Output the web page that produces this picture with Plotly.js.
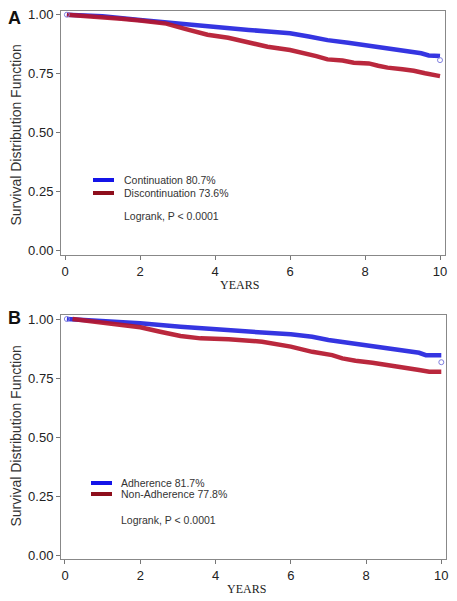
<!DOCTYPE html>
<html><head><meta charset="utf-8">
<script src="https://cdn.plot.ly/plotly-3.0.1.min.js"></script>
<style>html,body{margin:0;padding:0;background:#fff}</style>
</head><body>
<div id="chart" style="width:457px;height:601px"></div>
<script>
// Panel A: Continuation vs Discontinuation
const yearsA_cont = [0.05,0.5,1.0,2.0,3.0,4.0,4.4,4.9,5.5,6.0,6.5,7.0,7.55,8.0,8.5,9.05,9.5,9.7,10.0];
const survA_cont  = [1.0,0.997,0.993,0.977,0.961,0.946,0.940,0.935,0.928,0.921,0.907,0.892,0.881,0.871,0.860,0.850,0.836,0.827,0.824];
const yearsA_disc = [0.05,0.5,1.0,1.5,2.0,2.7,3.2,3.8,4.35,5.0,5.4,6.0,6.4,6.7,7.0,7.4,7.7,8.1,8.35,8.6,9.0,9.3,9.6,10.0];
const survA_disc  = [1.0,0.996,0.990,0.983,0.975,0.962,0.940,0.915,0.902,0.878,0.864,0.850,0.836,0.824,0.810,0.805,0.796,0.793,0.783,0.775,0.768,0.762,0.751,0.739];
const censorA_x = [0.05, 10.0];
const censorA_y = [1.0, 0.807];

// Panel B: Adherence vs Non-Adherence
const yearsB_adh = [0.05,0.93,2.0,3.07,4.35,5.24,6.0,6.57,7.0,8.0,8.79,9.41,9.59,10.0];
const survB_adh  = [1.0,0.993,0.982,0.967,0.950,0.943,0.935,0.925,0.911,0.890,0.872,0.857,0.847,0.847];
const yearsB_non = [0.2,0.93,2.0,2.53,3.07,3.6,4.35,5.24,6.0,6.57,7.1,7.37,7.72,8.17,8.52,8.97,9.41,9.68,10.0];
const survB_non  = [1.0,0.984,0.965,0.946,0.928,0.918,0.914,0.904,0.883,0.861,0.847,0.833,0.823,0.815,0.805,0.794,0.784,0.777,0.777];
const censorB_x = [0.05, 10.0];
const censorB_y = [1.0, 0.817];

const xTicks = [0,2,4,6,8,10];
const yTicks = [0,0.25,0.5,0.75,1];
const yTickText = ['0.00','0.25','0.50','0.75','1.00'];
const legendA = ['Continuation 80.7%','Discontinuation 73.6%'];
const legendB = ['Adherence 81.7%','Non-Adherence 77.8%'];
const pText = 'Logrank, P < 0.0001';
const xTitle = 'YEARS';
const yTitle = 'Survival Distribution Function';

const BLUE = '#2424de', RED = '#b4162c';
const LBLUE = '#1414e8', LRED = '#8e0e1c';

function curve(x,y,color,xa,ya,name){
  return {x:x,y:y,type:'scatter',mode:'lines',name:name,xaxis:xa,yaxis:ya,
    line:{color:color,width:4.5,shape:'linear'},opacity:0.92,showlegend:false,hoverinfo:'skip'};
}
function cens(x,y,xa,ya){
  return {x:x,y:y,type:'scatter',mode:'markers',xaxis:xa,yaxis:ya,showlegend:false,
    marker:{symbol:'circle-open',size:5,color:'#8080e0',line:{width:1}},hoverinfo:'skip'};
}
const data = [
  curve(yearsA_cont,survA_cont,BLUE,'x','y',legendA[0]),
  curve(yearsA_disc,survA_disc,RED,'x','y',legendA[1]),
  cens(censorA_x,censorA_y,'x','y'),
  curve(yearsB_adh,survB_adh,BLUE,'x2','y2',legendB[0]),
  curve(yearsB_non,survB_non,RED,'x2','y2',legendB[1]),
  cens(censorB_x,censorB_y,'x2','y2')
];

const SANS = 'Liberation Sans, Arial, sans-serif';
const tf = {family:SANS,size:13,color:'#222'};
function xax(dom,rng,anchor){return {domain:dom,range:rng,anchor:anchor,tickvals:xTicks,ticks:'outside',ticklen:4,tickcolor:'#777',
  showline:true,mirror:true,linecolor:'#888',linewidth:1,showgrid:false,zeroline:false,tickfont:tf,fixedrange:true};}
function yax(dom,rng,anchor){return {domain:dom,range:rng,anchor:anchor,tickvals:yTicks,ticktext:yTickText,ticks:'outside',ticklen:4,tickcolor:'#777',
  showline:true,mirror:true,linecolor:'#888',linewidth:1,showgrid:false,zeroline:false,tickfont:tf,fixedrange:true};}

const W=457,H=601;
const px=(v)=>v/W, py=(v)=>1-v/H;
const lf = {family:SANS,size:10.5,color:'#333'};
function A(text,x,y,font,extra){return Object.assign({text:text,x:px(x),y:py(y),xref:'paper',yref:'paper',showarrow:false,
  xanchor:'center',yanchor:'middle',font:font},extra||{});}
const pl = {family:SANS,size:18,color:'#111'};
const yt = {family:SANS,size:14,color:'#333'};
const xt = {family:'Liberation Serif, Times New Roman, serif',size:12,color:'#222'};
const ann = [
  A('<b>A</b>',14,18,pl), A('<b>B</b>',14,318,pl),
  A(yTitle,15,135.5,yt,{textangle:-90}), A(yTitle,15,436.5,yt,{textangle:-90}),
  A(xTitle,239,285,xt), A(xTitle,246,589,xt),
  A(legendA[0],122,180,lf,{xanchor:'left'}), A(legendA[1],122,193,lf,{xanchor:'left'}), A(pText,122,216,lf,{xanchor:'left'}),
  A(legendB[0],119,483,lf,{xanchor:'left'}), A(legendB[1],119,494,lf,{xanchor:'left'}), A(pText,119,520,lf,{xanchor:'left'})
];
const shp = (x0,x1,y,c)=>({type:'line',xref:'paper',yref:'paper',x0:px(x0),x1:px(x1),y0:py(y),y1:py(y),line:{color:c,width:4}});
const shapes = [shp(93,114,180,LBLUE),shp(93,114,193,LRED),shp(91,112,483,LBLUE),shp(91,112,494,LRED)];

const layout = {
  width:W,height:H,margin:{l:0,r:0,t:0,b:0},paper_bgcolor:'#fff',plot_bgcolor:'#fff',showlegend:false,
  xaxis:xax([px(61),px(445)],[-0.107,10.133],'y'),
  yaxis:yax([py(255),py(11)],[-0.0212,1.0157],'x'),
  xaxis2:xax([px(61),px(445.7)],[-0.106,10.117],'y2'),
  yaxis2:yax([py(559.3),py(315)],[-0.018,1.017],'x2'),
  annotations:ann,shapes:shapes
};
Plotly.newPlot('chart',data,layout,{displayModeBar:false,staticPlot:true});
</script>
</body></html>
